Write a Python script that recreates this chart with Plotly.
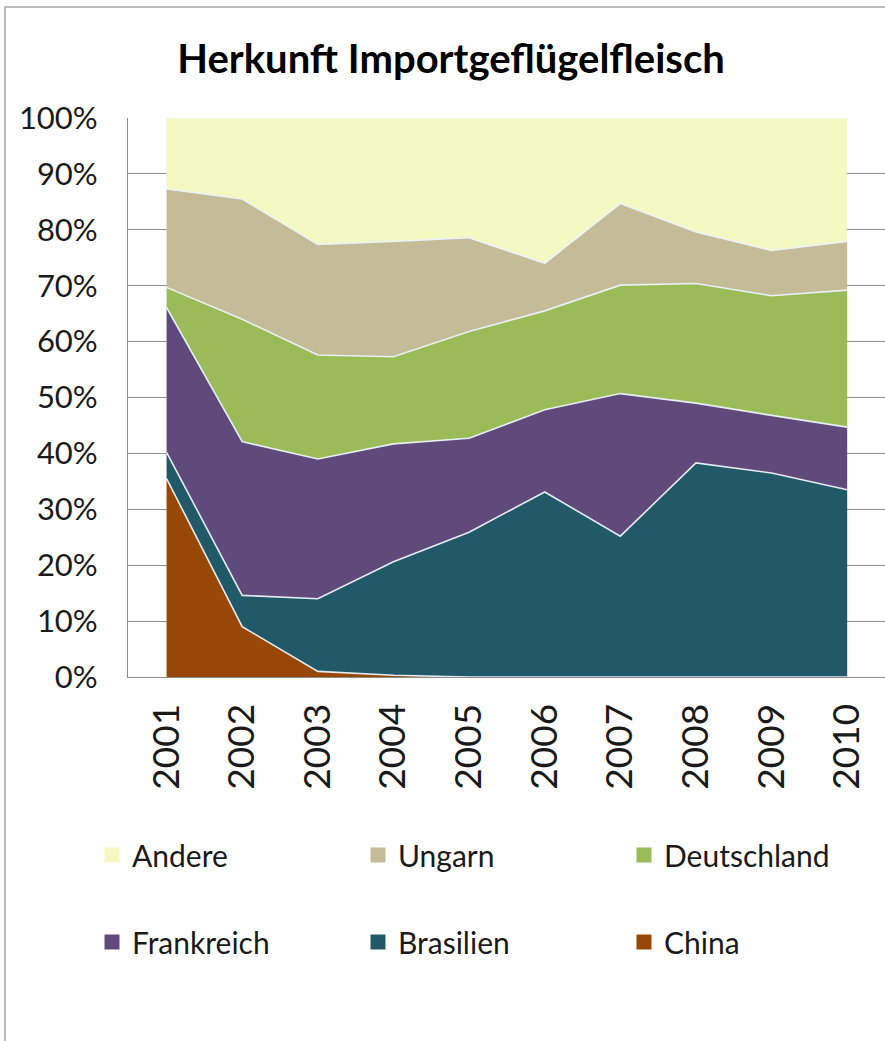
import plotly.graph_objects as go

years = [2001, 2002, 2003, 2004, 2005, 2006, 2007, 2008, 2009, 2010]
china = [35.5, 9.0, 1.0, 0.3, 0, 0, 0, 0, 0, 0]
brasilien = [4.7, 5.6, 13.0, 20.3, 25.9, 33.1, 25.2, 38.3, 36.5, 33.5]
frankreich = [25.9, 27.5, 25.0, 21.1, 16.8, 14.7, 25.5, 10.7, 10.3, 11.2]
deutschland = [3.6, 21.9, 18.6, 15.6, 19.1, 17.7, 19.4, 21.4, 21.4, 24.5]
ungarn = [17.6, 21.5, 19.8, 20.6, 16.8, 8.5, 14.6, 9.2, 8.1, 8.7]
andere = [12.7, 14.5, 22.6, 22.1, 21.4, 26.0, 15.3, 20.4, 23.7, 22.1]

series = [
    ("China", china, "#974806"),
    ("Brasilien", brasilien, "#215968"),
    ("Frankreich", frankreich, "#604A7B"),
    ("Deutschland", deutschland, "#9BBB59"),
    ("Ungarn", ungarn, "#C4BC96"),
    ("Andere", andere, "#F4F9C3"),
]
legend_rows = [["Andere", "Ungarn", "Deutschland"], ["Frankreich", "Brasilien", "China"]]
ytick_vals = [0, 10, 20, 30, 40, 50, 60, 70, 80, 90, 100]
ytick_text = [f"{v}%" for v in ytick_vals]

W, H = 885, 1041
L, R, T, B = 128, 0, 118, 364
pw, ph = W - L - R, H - T - B

def px(x):
    return (x - L) / pw

def py(y):
    return (H - B - y) / ph

FONT = "Lato"
fig = go.Figure()
for i, (name, vals, col) in enumerate(series):
    fig.add_trace(go.Scatter(
        x=years, y=vals, name=name, mode="lines",
        stackgroup="one", groupnorm="percent" if i == 0 else None,
        line=dict(color="rgba(235,242,250,0.95)", width=1.6),
        fillcolor=col, showlegend=False, hoverinfo="x+y+name",
    ))

colors = {n: c for n, _, c in series}
for r, row in enumerate(legend_rows):
    for name in row:
        fig.add_trace(go.Scatter(
            x=[None], y=[None], mode="markers", name=name,
            marker=dict(symbol="square", size=15, color=colors[name]),
            legend="legend" if r == 0 else "legend2", showlegend=True,
        ))

leg_common = dict(
    orientation="h", entrywidth=221, entrywidthmode="pixels", traceorder="normal",
    xanchor="left", yanchor="middle", bgcolor="rgba(0,0,0,0)",
    font=dict(family=FONT, size=30, color="#1a1a1a"), itemwidth=30,
)
fig.update_layout(
    width=W, height=H,
    margin=dict(l=L, r=R, t=T, b=B, autoexpand=False),
    paper_bgcolor="white", plot_bgcolor="white",
    title=dict(text="Herkunft Importgeflügelfleisch", x=451 / W, xanchor="center",
               y=1 - 59 / H, yanchor="middle", xref="container", yref="container",
               font=dict(family=FONT, size=40, color="#000000", weight="bold")),
    xaxis=dict(range=[2000.49, 2010.5], tickvals=years, ticktext=[str(y) for y in years],
               tickangle=-90, showgrid=False, zeroline=False, showline=True,
               linecolor="#8c8c8c", linewidth=1.2, ticks="", ticklabelstandoff=11,
               tickfont=dict(family=FONT, size=37, color="#1a1a1a")),
    yaxis=dict(range=[0, 100], tickvals=ytick_vals, ticktext=ytick_text, showgrid=True,
               gridcolor="#8c8c8c", gridwidth=1.2, zeroline=False, showline=True,
               linecolor="#8c8c8c", linewidth=1.2, ticks="", ticklabelstandoff=23,
               tickfont=dict(family=FONT, size=31, color="#1a1a1a")),
    legend=dict(x=px(92), y=py(855), **leg_common),
    legend2=dict(x=px(92), y=py(942), **leg_common),
    showlegend=True,
    shapes=[dict(type="rect", xref="paper", yref="paper",
                 x0=px(5), x1=px(890), y0=py(1046), y1=py(7),
                 line=dict(color="#a6a6a6", width=1.5), layer="below")],
)
fig.write_html("out.html", config={"displayModeBar": False},
               post_script="document.body.style.margin='0px';")
